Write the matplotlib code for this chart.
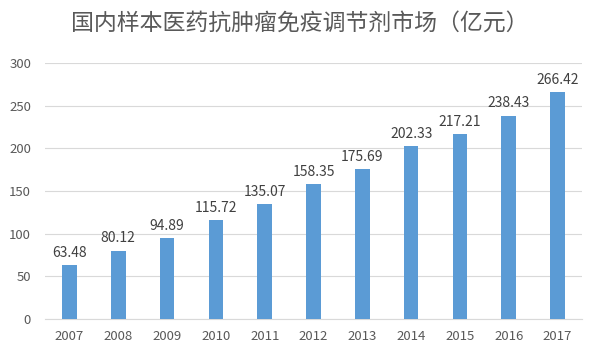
import matplotlib.pyplot as plt
import numpy as np

plt.rcParams['font.family'] = ['Noto Sans CJK SC', 'DejaVu Sans']

years = ['2007', '2008', '2009', '2010', '2011', '2012', '2013', '2014', '2015', '2016', '2017']
values = [63.48, 80.12, 94.89, 115.72, 135.07, 158.35, 175.69, 202.33, 217.21, 238.43, 266.42]

fig = plt.figure(figsize=(6, 3.6), dpi=100)
ax = fig.add_axes([0.075, 0.114, 0.895, 0.711])

x = np.arange(len(years))
ax.bar(x, values, width=0.3, color='#5B9BD5', zorder=3)

for xi, v in zip(x, values):
    ax.text(xi, v + 6, '%.2f' % v, ha='center', va='bottom', fontsize=10, color='#404040')

ax.set_ylim(0, 300)
ax.set_yticks(range(0, 301, 50))
ax.set_xlim(-0.5, len(years) - 0.5)
ax.set_xticks(x)
ax.set_xticklabels(years)
ax.grid(axis='y', color='#D9D9D9', linewidth=0.8, zorder=0)
for s in ['top', 'right', 'left']:
    ax.spines[s].set_visible(False)
ax.spines['bottom'].set_color('#D9D9D9')
ax.tick_params(axis='both', length=0, labelsize=9.5, colors='#595959')
ax.tick_params(axis='x', pad=8)
ax.tick_params(axis='y', pad=10)

fig.text(0.5, 0.935, '国内样本医药抗肿瘤免疫调节剂市场（亿元）', ha='center', va='center',
         fontsize=16.5, color='#595959')

fig.savefig('out.png', dpi=100)
